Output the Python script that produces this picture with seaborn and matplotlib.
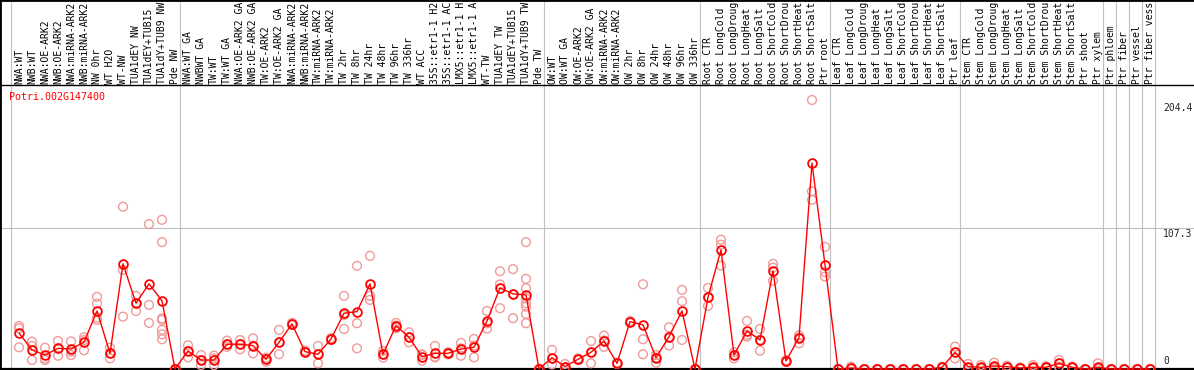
import numpy as np
import pandas as pd
import matplotlib
matplotlib.use("Agg")
import matplotlib.pyplot as plt
import seaborn as sns

gene = "Potri.002G147400"

# sample names as shown (the chart cuts them at 14 characters)
samples = [
    "NWA:WT", "NWB:WT", "NWA:OE-ARK2", "NWB:OE-ARK2", "NWA:miRNA-ARK2", "NWB:miRNA-ARK2",
    "NW 0hr", "WT H2O", "WT-NW", "TUA1dEY NW", "TUA1dEY+TUB15", "TUA1dY+TUB9 NW", "Pde NW",
    "NWA:WT GA", "NWBWT GA", "TW:WT", "TW:WT GA", "NWA:OE-ARK2 GA", "NWB:OE-ARK2 GA",
    "TW:OE-ARK2", "TW:OE-ARK2 GA", "NWA:miRNA-ARK2", "NWB:miRNA-ARK2", "TW:miRNA-ARK2",
    "TW:miRNA-ARK2", "TW 2hr", "TW 8hr", "TW 24hr", "TW 48hr", "TW 96hr", "TW 336hr",
    "WT ACC", "35S::etr1-1 H2", "35S::etr1-1 AC", "LMX5::etr1-1 H", "LMX5::etr1-1 A",
    "WT-TW", "TUA1dEY TW", "TUA1dEY+TUB15", "TUA1dY+TUB9 TW", "Pde TW",
    "OW:WT", "OW:WT GA", "OW:OE-ARK2", "OW:OE-ARK2 GA", "OW:miRNA-ARK2", "OW:miRNA-ARK2",
    "OW 2hr", "OW 8hr", "OW 24hr", "OW 48hr", "OW 96hr", "OW 336hr",
    "Root CTR", "Root LongCold", "Root LongDroug", "Root LongHeat", "Root LongSalt",
    "Root ShortCold", "Root ShortDrou", "Root ShortHeat", "Root ShortSalt", "Ptr root",
    "Leaf CTR", "Leaf LongCold", "Leaf LongDroug", "Leaf LongHeat", "Leaf LongSalt",
    "Leaf ShortCold", "Leaf ShortDrou", "Leaf ShortHeat", "Leaf ShortSalt", "Ptr leaf",
    "Stem CTR", "Stem LongCold", "Stem LongDroug", "Stem LongHeat", "Stem LongSalt",
    "Stem ShortCold", "Stem ShortDrou", "Stem ShortHeat", "Stem ShortSalt", "Ptr shoot",
    "Ptr xylem", "Ptr phloem", "Ptr fiber", "Ptr vessel", "Ptr fiber vess",
]

means = [
    27.4, 14.5, 10.6, 15.7, 15.2, 20.3, 44.1, 11.9, 79.9, 50.0, 64.7, 51.8, 0,
    13.7, 6.8, 6.8, 18.8, 18.8, 17.8, 7.4, 20.3, 34.2, 13.2, 11.2, 22.8, 42.4, 43.6,
    64.7, 11.2, 33.0, 24.1, 9.4, 11.9, 11.9, 15.2, 16.5, 36.5, 61.6, 57.1, 56.3, 0,
    8.6, 1.8, 7.4, 12.7, 21.3, 4.3, 36.0, 33.5, 8.6, 24.6, 44.1, 0,
    54.5, 90.6, 10.6, 28.9, 22.1, 74.6, 6.1, 23.8, 156.5, 79.1,
    0, 0.8, 0, 0, 0, 0, 0, 0, 1.3, 12.7,
    1.8, 1.3, 2.3, 1.8, 0.8, 1.3, 1.3, 4.3, 1.3, 0,
    1.3, 0, 0, 0, 0,
]

replicates = [
    [32.7, 31.0, 16.5], [20.8, 17.5, 6.8], [16.2, 8.1, 6.8], [21.3, 15.7, 10.1],
    [21.0, 13.2, 10.6], [24.1, 22.0, 14.2], [54.8, 49.7, 39.0, 37.3], [16.2, 11.9, 8.1],
    [123.3, 75.3, 39.8], [55.6, 50.0, 44.1], [110.1, 48.7, 35.0],
    [113.4, 96.4, 38.5, 37.3, 29.7, 26.4, 22.6], [0, 0, 0],
    [18.0, 13.7, 8.9], [10.6, 6.8, 3.0], [10.1, 8.0, 3.0], [21.6, 18.8, 16.8],
    [22.0, 19.0, 15.0], [23.3, 17.8, 11.9], [8.6, 7.4, 5.6], [29.7, 20.3, 11.2],
    [35.0, 34.2, 33.5], [14.0, 13.2, 12.5], [17.5, 11.5, 4.3], [23.5, 22.8, 22.0],
    [55.6, 41.0, 30.4], [78.4, 34.8, 15.7], [86.0, 55.6, 52.5], [13.7, 11.2, 8.7],
    [35.0, 33.0, 31.0], [27.9, 24.1, 20.3], [11.2, 10.6, 6.3], [17.5, 9.4, 8.8],
    [12.7, 11.9, 11.1], [19.8, 15.7, 10.1], [22.8, 17.8, 8.9], [44.1, 34.7, 30.7],
    [74.3, 64.3, 46.2], [75.9, 56.8, 38.6],
    [96.4, 68.5, 61.4, 53.8, 50.0, 47.4, 41.9, 34.8], [0, 0, 0],
    [14.5, 8.0, 3.5], [3.8, 1.0, 0.6], [8.0, 7.4, 6.8], [21.3, 12.5, 4.3],
    [25.4, 21.7, 16.8], [4.8, 4.3, 3.8], [36.5, 36.0, 35.5], [64.4, 22.6, 11.2],
    [10.6, 8.6, 4.8], [31.7, 24.3, 17.8], [60.1, 51.5, 22.1], [0, 0, 0],
    [61.6, 54.5, 47.9], [98.2, 94.5, 78.6], [12.7, 10.6, 8.1], [36.5, 26.0, 24.6],
    [30.4, 22.1, 13.9], [79.9, 77.0, 67.0], [6.8, 6.1, 5.4], [25.5, 23.8, 19.5],
    [204.4, 135.0, 128.6], [92.8, 73.6, 70.3],
    [0, 0, 0], [1.8, 0.5, 0], [0, 0, 0], [0, 0, 0], [0, 0, 0], [0, 0, 0], [0, 0, 0],
    [0, 0, 0], [1.8, 1.3, 0.8], [17.0, 12.7, 8.1],
    [3.8, 1.0, 0.5], [3.0, 0.6, 0.3], [4.8, 1.5, 0.6], [2.5, 1.8, 1.1], [1.2, 0.8, 0.4],
    [3.0, 0.6, 0.3], [2.0, 1.3, 0.6], [6.8, 4.3, 1.8], [1.8, 1.3, 0.8], [0, 0, 0],
    [4.3, 0, 0], [0, 0, 0], [0, 0, 0], [0, 0, 0], [0, 0, 0],
]

# first sample index of each block (last one closes the final block)
group_starts = [0, 13, 41, 53, 63, 73, 84, 85, 86, 87, 88]
y_marks = [204.4, 107.3, 0]

df_mean = pd.DataFrame({"pos": np.arange(len(samples)), "sample": samples, "mean": means})
df_rep = pd.DataFrame({"pos": np.arange(len(samples)), "value": replicates}).explode("value")
df_rep["value"] = df_rep["value"].astype(float)

sns.set_style("white")
plt.rcParams["font.family"] = ["DejaVu Sans Mono"]

fig = plt.figure(figsize=(11.94, 3.70), dpi=100)
ax = fig.add_axes([0, 0, 1, 1])

# pixel layout: sample i at x = 19 + 13*i px, value v at y = 369 - 1.316*v px (from top)
px = 1.316
ax.set_xlim(-19 / 13, (1194 - 19) / 13)
ax.set_ylim(-1 / px, 370 / px - 1 / px)
top_line = (369 - 85) / px

for k in group_starts:
    ax.axvline(k - 0.58, color="#c0c0c0", lw=0.8, zorder=0)
ax.axhline(107.3, color="#c0c0c0", lw=0.8, zorder=0)
ax.axhline(top_line, color="black", lw=1.0, zorder=1)
ax.axhline(0, color="black", lw=1.6, zorder=1)

sns.scatterplot(data=df_rep, x="pos", y="value", ax=ax, marker="o", s=40,
                facecolors="none", edgecolors="#f09a9a", linewidth=1.0, zorder=2)
sns.lineplot(data=df_mean, x="pos", y="mean", ax=ax, color="red", lw=1.0,
             marker="o", markersize=6.3, markerfacecolor="none",
             markeredgecolor="red", markeredgewidth=1.3, zorder=3)

for i, name in enumerate(samples):
    ax.text(i, (369 - 83.5) / px, name, rotation=90, ha="center", va="bottom",
            fontsize=7.0, color="black")

ax.text(-10 / 13, (369 - 97) / px, gene, color="red", fontsize=7.2, ha="left", va="center")

ax.text(88.0, (369 - 103) / px, f"{y_marks[0]}", fontsize=7.0, ha="left", va="top")
ax.text(88.0, (369 - 229) / px, f"{y_marks[1]}", fontsize=7.0, ha="left", va="top")
ax.text(88.0, (369 - 366) / px, f"{y_marks[2]}", fontsize=7.0, ha="left", va="bottom")

ax.set_xticks([])
ax.set_yticks([])
ax.set_xlabel("")
ax.set_ylabel("")
for side in ["right", "bottom"]:
    ax.spines[side].set_visible(False)
for side in ["left", "top"]:
    ax.spines[side].set_color("black")
    ax.spines[side].set_linewidth(2.0)

fig.savefig("out.png", dpi=100)
